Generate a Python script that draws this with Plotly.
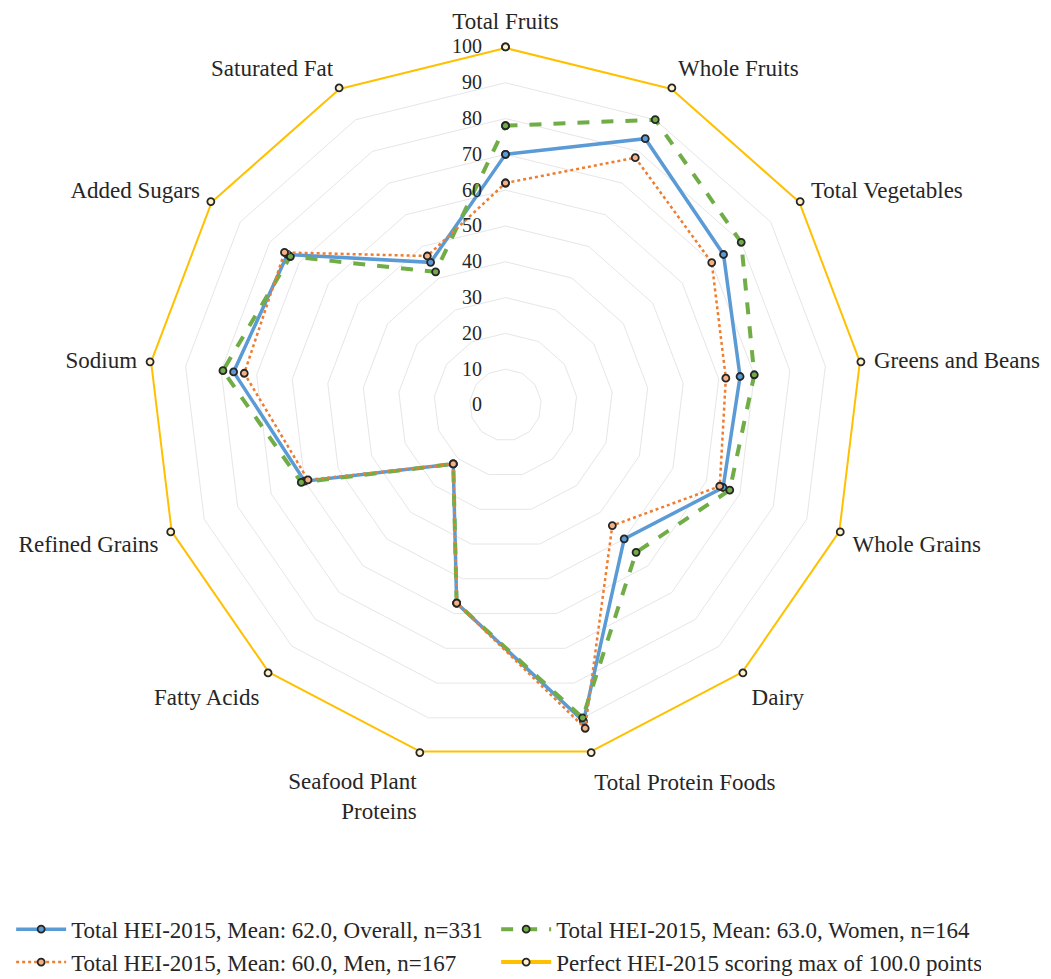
import plotly.graph_objects as go

categories = ["Total Fruits", "Whole Fruits", "Total Vegetables", "Greens and Beans",
              "Whole Grains", "Dairy", "Total Protein Foods", "Seafood Plant<br>Proteins",
              "Fatty Acids", "Refined Grains", "Sodium", "Added Sugars", "Saturated Fat"]

overall = [70, 84, 74, 66, 65, 50, 91, 57, 22, 60, 76.5, 74, 45]
women = [78, 90, 80, 70, 67, 55, 90, 57, 22, 61, 79.5, 73, 42]
men = [62, 78, 70, 62, 64, 45, 93, 57, 22, 59, 73.5, 75, 47]
perfect = [100] * 13

series_names = ["Total HEI-2015, Mean: 62.0, Overall, n=331",
                "Total HEI-2015, Mean: 63.0, Women, n=164",
                "Total HEI-2015, Mean: 60.0, Men, n=167",
                "Perfect HEI-2015 scoring max of 100.0 points"]

radial_ticks = list(range(0, 101, 10))
# right-aligned labels: pad to 3 digits with figure spaces, then push left with nbsp
radial_labels = [str(t).rjust(3).replace(" ", "\u2007") + "\u00a0" * 4 for t in radial_ticks]

def closed(v):
    return list(v) + [v[0]]

fig = go.Figure()

styles = [
    (overall, "#5B9BD5", "solid", 3.5, "#5B9BD5"),
    (women, "#70AD47", "dash", 4, "#70AD47"),
    (men, "#ED7D31", "dot", 2.5, "#F4B183"),
    (perfect, "#FFC000", "solid", 4, "#FFF2CC"),
]

for i, (vals, col, dash, w, mfill) in enumerate(styles):
    fig.add_trace(go.Scatterpolar(
        r=closed(vals),
        theta=closed(categories),
        mode="lines+markers",
        name=series_names[i],
        line=dict(color=col, width=w, dash=dash),
        marker=dict(symbol="circle", size=7, color=mfill,
                    line=dict(color="#262626", width=1.8)),
        cliponaxis=False,
        hoverinfo="skip",
        legendrank=i + 1,
    ))

fig.update_layout(
    width=1051, height=979,
    margin=dict(l=0, r=0, t=0, b=0),
    paper_bgcolor="white",
    plot_bgcolor="white",
    font=dict(family="Liberation Serif", size=22, color="#262626"),
    polar=dict(
        domain=dict(x=[0.1327, 0.8140], y=[0.2288, 0.9602]),
        bgcolor="white",
        gridshape="linear",
        radialaxis=dict(
            range=[0, 100],
            angle=90,
            tickangle=90,
            tickvals=radial_ticks,
            ticktext=radial_labels,
            showline=False,
            ticks="",
            side="counterclockwise",
            gridcolor="#E6E6E6",
            gridwidth=1,
            tickfont=dict(family="Liberation Serif", size=20, color="#262626"),
        ),
        angularaxis=dict(
            rotation=90,
            direction="clockwise",
            showgrid=False,
            showline=False,
            ticks="outside",
            ticklen=8,
            tickcolor="rgba(0,0,0,0)",
            tickfont=dict(family="Liberation Serif", size=23, color="#262626"),
        ),
    ),
    legend=dict(
        orientation="h",
        x=0.003, y=0.081, xanchor="left", yanchor="top",
        entrywidth=420, entrywidthmode="pixels",
        font=dict(family="Liberation Serif", size=23, color="#262626"),
        itemwidth=50,
    ),
)

fig.write_html("out.html")
